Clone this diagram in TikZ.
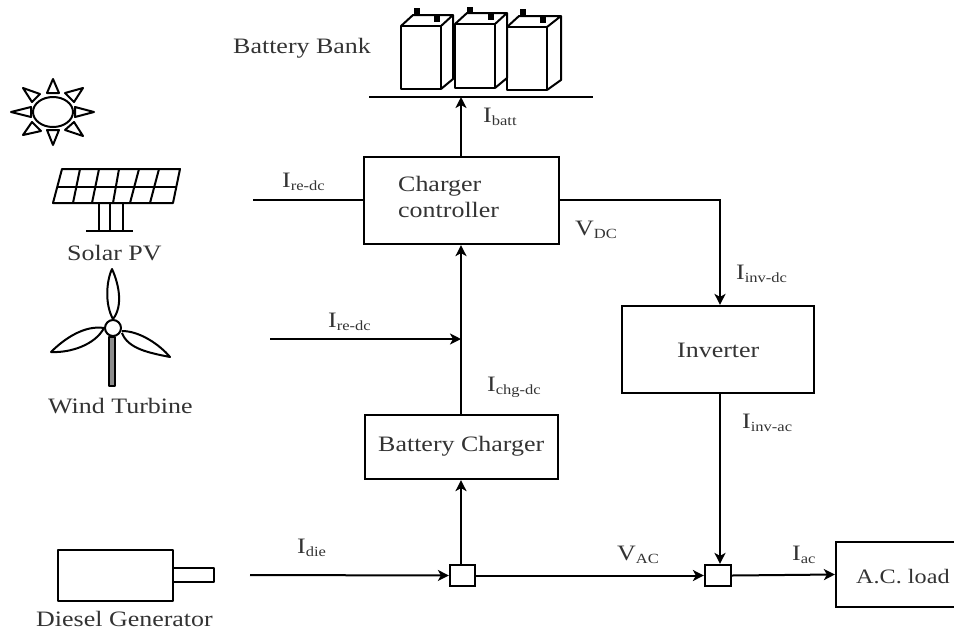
\documentclass[tikz,border=0pt]{standalone}
\usepackage{fontspec}
\setmainfont[FakeStretch=1.18]{Liberation Serif}
\usetikzlibrary{arrows.meta}
\tikzset{
 box/.style={draw,line width=2.2pt,inner sep=0pt},
 conn/.style={line width=2pt},
 arr/.style={conn,-{Stealth[length=11pt,width=11pt,inset=3pt]}},
 icon/.style={line width=2pt,line join=round},
 lab/.style={inner sep=0pt,anchor=base west,font=\fontsize{22}{26}\selectfont,text=black!80},
}
\newcommand{\subl}[2]{#1\textsubscript{\fontsize{14}{14}\selectfont #2}}
\begin{document}
\begin{tikzpicture}[x=1pt,y=-1pt]
\useasboundingbox (0,0) rectangle (954,633);
% boxes
\node[box,minimum width=195pt,minimum height=87pt] (cc) at (461.5,200.5) {};
\node[box,minimum width=192pt,minimum height=87pt] (inv) at (718,349.5) {};
\node[box,minimum width=193pt,minimum height=64pt] (bc) at (461.5,447) {};
\node[box,minimum width=25pt,minimum height=21pt] (s1) at (462.5,575.5) {};
\node[box,minimum width=26pt,minimum height=21pt] (s2) at (718,575.5) {};
\node[box,minimum width=124pt,minimum height=65pt] (load) at (898,574.5) {};
\coordinate (bus) at (461,97);
\coordinate (busL) at (369,97);
\coordinate (busR) at (593,97);
\coordinate (pvEnd) at (253,200);
\coordinate (wtEnd) at (270,339);
\coordinate (dgEnd) at (250,575);
\coordinate (wtJoin) at (461,339);
\coordinate (corner) at (720,200);
% box texts
\node[lab] (cct1) at (398,191) {Charger};
\node[lab] (cct2) at (398,217) {controller};
\node[lab] (invt) at (677,357) {Inverter};
\node[lab] (bct) at (378,451) {Battery Charger};
\node[lab,font=\fontsize{20.5}{26}\selectfont] (aclt) at (856,583) {A.C. load};
% connectors
\draw[conn] (busL) -- (busR);
\draw[arr] (cc.north -| bus) -- (bus);
\draw[conn] (pvEnd) -- (pvEnd -| cc.west);
\draw[arr] (cc.east |- corner) -- (corner) -- (inv.north -| corner);
\draw[arr] (wtEnd) -- (wtJoin);
\draw[arr] (bc.north -| bus) -- (cc.south -| bus);
\draw[arr] (s1.north -| bus) -- (bc.south -| bus);
\draw[arr] (dgEnd) -- (s1.west);
\draw[arr] (s1.east) -- (s2.west);
\draw[arr] (inv.south -| corner) -- (s2.north -| corner);
\draw[arr] (s2.east) -- (load.west);
% labels
\node[lab] (l1) at (233,53) {Battery Bank};
\node[lab] (l2) at (67,260) {Solar PV};
\node[lab] (l3) at (48,413) {Wind Turbine};
\node[lab] (l4) at (36,626) {Diesel Generator};
\node[lab] (i1) at (483,122) {\subl{I}{batt}};
\node[lab] (i2) at (282,187) {\subl{I}{re-dc}};
\node[lab] (i3) at (328,327) {\subl{I}{re-dc}};
\node[lab] (i4) at (575,235) {\subl{V}{DC}};
\node[lab] (i5) at (736,279) {\subl{I}{inv-dc}};
\node[lab] (i6) at (487,391) {\subl{I}{chg-dc}};
\node[lab] (i7) at (742,428) {\subl{I}{inv-ac}};
\node[lab] (i8) at (297,553) {\subl{I}{die}};
\node[lab] (i9) at (617,560) {\subl{V}{AC}};
\node[lab] (i10) at (792,560) {\subl{I}{ac}};
% batteries
\foreach \xa/\xb/\xc/\ya/\yb/\yc/\ta/\tay/\tb/\tby in
 {401/441/453/26/89/15/417/12/437/19,
  455/495/507/24/88/13/470/11/491/17,
  507/547/561/27/90/16/523/13/543/20}{
  \draw[icon] (\xa,\ya) rectangle (\xb,\yb);
  \draw[icon] (\xa,\ya) -- (\xa+12,\yc) -- (\xc,\yc) -- (\xb,\ya);
  \draw[icon] (\xc,\yc) -- (\xc,\yb-10) -- (\xb,\yb);
  \fill (\ta-3,\tay-4) rectangle (\ta+3,\tay+3);
  \fill (\tb-3,\tby-3) rectangle (\tb+3,\tby+3);
}
% sun
\draw[icon] (53,112) ellipse [x radius=20,y radius=15];
\foreach \a/\b/\c/\d/\e/\f in
 {53/79/47/93/59/93, 94/112/75/107/75/117, 53/145/47/130/59/130, 11/112/31/107/31/117,
  23/88/40/94/32/102, 83/88/65/93/74/102, 23/135/32/122/41/131, 83/136/74/122/65/130}{
  \draw[icon] (\a,\b) -- (\c,\d) -- (\e,\f) -- cycle;
}
% solar panel
\draw[icon] (62,169) -- (180,169) -- (173,203) -- (53,203) -- cycle;
\draw[icon] (57.5,187) -- (176,187);
\foreach \t/\bt in {80/73,99/92,119/113,139/130,159/150}{\draw[icon] (\t,169) -- (\bt,203);}
\foreach \t in {99,110,123}{\draw[icon] (\t,203) -- (\t,231);}
\draw[icon] (86,231) -- (133,231);
% wind turbine
\draw[icon] (113,328) circle [radius=8];
\draw[icon,fill=black!45] (109,337) rectangle (115,386);
\draw[icon] (113,319) .. controls (105,305) and (106,282) .. (112,269) .. controls (118,282) and (124,305) .. (113,319);
\draw[icon] (104,328) .. controls (85,325) and (65,338) .. (51,352) .. controls (70,353) and (95,345) .. (104,328);
\draw[icon] (122,333) .. controls (128,349) and (150,353) .. (170,357) .. controls (160,345) and (140,331) .. (122,331);
% diesel
\draw[icon] (58,550) rectangle (173,601);
\draw[icon] (173,568) rectangle (214,582);
\end{tikzpicture}
\end{document}
